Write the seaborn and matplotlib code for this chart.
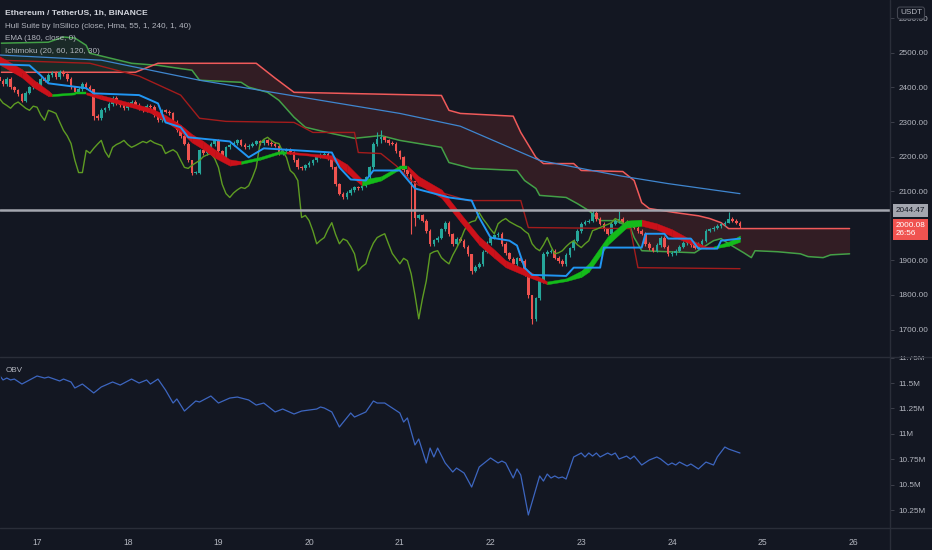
import numpy as np
import pandas as pd
import matplotlib
matplotlib.use("Agg")
import matplotlib.pyplot as plt
import seaborn as sns
from matplotlib.patches import Rectangle
from matplotlib.lines import Line2D

# hourly candles, hour 0 = day 17 00:00
hours = np.arange(-10, 187)
closes = [
    2420, 2410, 2425, 2400, 2392, 2380, 2362, 2385, 2400, 2412,
    2405, 2425, 2420, 2436, 2442, 2430, 2446, 2438, 2424, 2400,
    2388, 2396, 2410, 2402, 2395, 2318, 2312, 2335, 2340, 2352,
    2369, 2355, 2348, 2340, 2352, 2358, 2349, 2340, 2334, 2346,
    2343, 2320, 2305, 2334, 2330, 2325, 2300, 2276, 2260, 2238,
    2190, 2154, 2154, 2218, 2210, 2224, 2236, 2247, 2215, 2198,
    2227, 2235, 2240, 2247, 2235, 2227, 2232, 2238, 2244, 2240,
    2247, 2240, 2236, 2232, 2209, 2215, 2220, 2212, 2190, 2169,
    2166, 2175, 2182, 2189, 2200, 2205, 2209, 2195, 2169, 2120,
    2093, 2082, 2095, 2104, 2111, 2108, 2116, 2140, 2169, 2238,
    2250, 2256, 2247, 2240, 2238, 2215, 2198, 2160, 2150, 2131,
    2024, 2030, 2015, 1985, 1948, 1958, 1966, 1990, 2009, 1975,
    1948, 1962, 1957, 1940, 1919, 1870, 1882, 1890, 1925, 1950,
    1966, 1972, 1977, 1948, 1920, 1905, 1890, 1906, 1899, 1861,
    1800, 1731, 1790, 1841, 1919, 1925, 1928, 1908, 1898, 1890,
    1915, 1935, 1957, 1985, 2006, 2012, 2015, 2038, 2020, 2006,
    1990, 1977, 2006, 2015, 2021, 2012, 2006, 2000, 1995, 1985,
    1977, 1948, 1935, 1928, 1945, 1966, 1940, 1919, 1922, 1928,
    1940, 1950, 1957, 1945, 1937, 1948, 1957, 1986, 1990, 1995,
    2000, 2004, 2009, 2021, 2015, 2009, 2000.08,
]
first_open = 2430
# long wicks: hour -> (high, low)
wick_extremes = {
    15: (2395, 2305), 41: (2190, 2146), 90: (2270, 2232), 91: (2276, 2240),
    99: (2160, 1977), 100: (2131, 2000), 115: (1919, 1860), 130: (1862, 1790),
    131: (1800, 1716), 147: (2045, 2010), 154: (2044, 2008), 183: (2040, 2009),
}

ema_h = [-10, 17, 43, 70, 96, 112, 133, 154, 167, 186]
ema_p = [2494, 2479, 2421, 2372, 2325, 2288, 2189, 2145, 2122, 2093]

tenkan_h = [-10, -2, 1, 3, 13, 15, 27, 32, 34, 38, 40, 51, 56, 60, 78, 80, 83, 87, 89, 96,
            100, 109, 115, 117, 120, 125, 127, 129, 131, 140, 142, 149, 150, 160, 161, 166,
            167, 173, 175, 180, 181, 186]
tenkan_p = [2467, 2464, 2435, 2412, 2398, 2383, 2378, 2354, 2299, 2285, 2256, 2244, 2198, 2224,
            2212, 2169, 2134, 2131, 2160, 2160, 2108, 2082, 2073, 2024, 1966, 1957, 1943, 1879,
            1858, 1855, 1879, 1879, 1937, 1937, 1977, 1977, 1963, 1963, 1934, 1934, 1957, 1963]

kijun_h = [-10, 14, 27, 38, 43, 50, 68, 73, 84, 85, 91, 95, 99, 101, 107, 114, 128, 130, 157, 159, 186]
kijun_p = [2479, 2470, 2433, 2378, 2311, 2302, 2299, 2270, 2270, 2212, 2209, 2174, 2131, 2117,
           2096, 2073, 2073, 1995, 1992, 1879, 1876]

spana_h = [-10, 3, 7, 10, 13, 14, 25, 32, 41, 43, 54, 56, 61, 64, 68, 71, 78, 84, 91, 96,
           107, 109, 115, 127, 129, 132, 133, 140, 143, 146, 149, 153, 157, 158, 160, 174,
           179, 181, 183, 187, 189, 190, 196, 202, 204, 208, 210, 215]
spana_p = [2528, 2531, 2546, 2543, 2522, 2499, 2470, 2464, 2450, 2421, 2415, 2401, 2386, 2363,
           2314, 2285, 2267, 2253, 2261, 2247, 2227, 2183, 2166, 2160, 2131, 2108, 2088, 2082,
           2064, 2044, 2015, 2015, 1995, 1966, 1928, 1922, 1957, 1963, 1948, 1922, 1908, 1928,
           1925, 1919, 1911, 1908, 1916, 1919]

spanb_h = [-10, 26, 32, 58, 63, 68, 107, 109, 112, 126, 128, 132, 134, 142, 144, 155, 158,
           160, 162, 169, 175, 178, 181, 183, 215]
spanb_p = [2444, 2444, 2470, 2470, 2427, 2386, 2377, 2334, 2325, 2317, 2270, 2198, 2180, 2180,
           2160, 2157, 2131, 2067, 2050, 2038, 2029, 2021, 2009, 1992, 1992]

hull_h = [-10, -4, -1, 3, 4, 10, 13, 17, 25, 30, 34, 38, 41, 44, 47, 51, 54, 59, 64, 66,
          72, 78, 82, 86, 91, 96, 98, 101, 107, 112, 117, 121, 124, 130, 135, 140, 144, 146,
          151, 156, 160, 164, 168, 173, 177, 179, 183, 186]
hull_p = [2479, 2441, 2412, 2383, 2378, 2383, 2383, 2372, 2349, 2334, 2311, 2282, 2253, 2233,
          2209, 2183, 2183, 2195, 2212, 2212, 2206, 2198, 2166, 2125, 2137, 2169, 2169, 2131,
          2093, 2024, 1957, 1919, 1890, 1861, 1835, 1844, 1861, 1879, 1957, 2005, 2009, 1998,
          1980, 1954, 1937, 1937, 1948, 1963]
hull_spread = [12, 12, 11, 8, 3, 3, 3, 6, 6, 7, 9, 10, 12, 12, 12, 9, 4, 4, 4, 3,
               3, 6, 12, 9, 6, 5, 5, 12, 12, 12, 12, 12, 10, 9, 4, 4, 9, 12, 12, 10,
               9, 9, 10, 6, 3, 3, 6, 9]
hull_trend = list("rrrrggrrrrrrrrrrgggrrrrgggrrrrrrrrggggggrrrrrggg")

obv_h = [-10, -9, -8, -7, -6, -4, 0, 2, 3, 6, 7, 9, 10, 12, 15, 17, 20, 22, 25, 27, 29, 30,
         32, 34, 36, 37, 39, 42, 43, 46, 48, 51, 53, 56, 58, 60, 63, 65, 68, 70, 74, 75, 76,
         78, 80, 83, 84, 87, 89, 90, 92, 96, 97, 98, 100, 101, 103, 104, 105, 106, 108, 110,
         111, 113, 115, 117, 120, 122, 123, 124, 126, 127, 128, 130, 133, 134, 135, 136, 137,
         138, 139, 140, 142, 144, 145, 146, 147, 148, 149, 151, 152, 153, 154, 156, 157, 158,
         160, 162, 164, 165, 167, 168, 169, 170, 172, 173, 175, 177, 179, 180, 182, 183, 186]
obv_v = [11.579, 11.530, 11.549, 11.530, 11.539, 11.490, 11.569, 11.549, 11.559, 11.520,
         11.539, 11.510, 11.451, 11.490, 11.402, 11.461, 11.510, 11.480, 11.539, 11.500,
         11.530, 11.490, 11.539, 11.431, 11.303, 11.343, 11.224, 11.323, 11.313, 11.372,
         11.303, 11.352, 11.362, 11.333, 11.283, 11.303, 11.215, 11.244, 11.195, 11.224,
         11.244, 11.264, 11.254, 11.215, 11.067, 11.205, 11.165, 11.215, 11.323, 11.303,
         11.303, 11.205, 11.116, 11.156, 10.890, 10.949, 10.713, 10.860, 10.772, 10.860,
         10.713, 10.624, 10.663, 10.614, 10.476, 10.673, 10.762, 10.713, 10.732, 10.713,
         10.565, 10.654, 10.594, 10.201, 10.585, 10.535, 10.604, 10.565, 10.585, 10.565,
         10.575, 10.555, 10.772, 10.811, 10.772, 10.811, 10.781, 10.811, 10.772, 10.811,
         10.791, 10.811, 10.752, 10.781, 10.752, 10.781, 10.693, 10.742, 10.772, 10.752,
         10.693, 10.713, 10.693, 10.722, 10.683, 10.703, 10.654, 10.722, 10.693, 10.772,
         10.870, 10.850, 10.811]

day_labels = ["17", "18", "19", "20", "21", "22", "23", "24", "25", "26"]
# 2000.00 sits under the last-price tag, so it is not labelled
price_ticks = [1700, 1800, 1900, 2100, 2200, 2300, 2400, 2500, 2600]
obv_ticks = [10.25, 10.5, 10.75, 11.0, 11.25, 11.5, 11.75]
obv_tick_labels = ["10.25M", "10.5M", "10.75M", "11M", "11.25M", "11.5M", "11.75M"]
hline_price = 2044.47
last_price = 2000.08
countdown = "26:56"

BG = "#131722"
TXT = "#b2b5be"
SEP = "#2a2e39"
UP = "#26a69a"
DOWN = "#ef5350"
FS = 5.9

sns.set_theme(style="dark", rc={
    "figure.facecolor": BG, "axes.facecolor": BG, "axes.edgecolor": BG,
    "text.color": TXT, "xtick.color": TXT, "ytick.color": TXT,
})
plt.rcParams["font.family"] = ["Liberation Sans Narrow", "Liberation Sans", "DejaVu Sans"]

fig = plt.figure(figsize=(9.32, 5.5), dpi=100)
ax = fig.add_axes([0, 1 - 356 / 550, 890 / 932, 356 / 550])
ax2 = fig.add_axes([0, 22 / 550, 890 / 932, 171 / 550])

# candles
c = np.array(closes, dtype=float)
o = np.concatenate([[first_open], c[:-1]])
hi = np.maximum(o, c) + 5
lo = np.minimum(o, c) - 5
for hr, (h_, l_) in wick_extremes.items():
    i = hr - hours[0]
    hi[i], lo[i] = h_, l_
cols = np.where(c >= o, UP, DOWN)
ax.vlines(hours, lo, hi, colors=cols, lw=0.8, zorder=3)
ax.bar(hours, np.maximum(np.abs(c - o), 1.5), bottom=np.minimum(o, c), width=0.7,
       color=cols, linewidth=0, zorder=3)

# ichimoku cloud
grid = np.arange(-10, 216)
a = np.interp(grid, spana_h, spana_p)
b = np.interp(grid, spanb_h, spanb_p)
ax.fill_between(grid, a, b, where=a >= b, interpolate=True, color="#4caf50", alpha=0.13, lw=0, zorder=1)
ax.fill_between(grid, a, b, where=a < b, interpolate=True, color="#f44336", alpha=0.14, lw=0, zorder=1)
sns.lineplot(x=spana_h, y=spana_p, ax=ax, color="#43a047", lw=1.1, estimator=None, sort=False, zorder=2)
sns.lineplot(x=spanb_h, y=spanb_p, ax=ax, color="#f05a5a", lw=1.1, estimator=None, sort=False, zorder=2)
sns.lineplot(x=kijun_h, y=kijun_p, ax=ax, color="#a31c1c", lw=1.0, estimator=None, sort=False, zorder=4)
sns.lineplot(x=hours[30:] - 30, y=c[30:], ax=ax, color="#5e9c22", lw=1.0, estimator=None, sort=False, zorder=4)
sns.lineplot(x=ema_h, y=ema_p, ax=ax, color="#3f86cf", lw=0.9, estimator=None, sort=False, zorder=4)

# hull suite band
hull_colors = {"r": "#cc111a", "g": "#14bb1a"}
for i in range(len(hull_h) - 1):
    xs = [hull_h[i], hull_h[i + 1]]
    mid = np.array([hull_p[i], hull_p[i + 1]])
    w = np.array([hull_spread[i], hull_spread[i + 1]])
    ax.fill_between(xs, mid - w, mid + w, color=hull_colors[hull_trend[i]], lw=0.3,
                    edgecolor=hull_colors[hull_trend[i]], zorder=5)

sns.lineplot(x=tenkan_h, y=tenkan_p, ax=ax, color="#2196f3", lw=1.4, estimator=None, sort=False, zorder=6)
ax.axhline(hline_price, color="#a3a6af", lw=1.8, zorder=7)

ax.set_xlim(-9.8, 225.7)
ax.set_ylim(1623.5, 2653)
ax.yaxis.tick_right()
ax.set_yticks(price_ticks)
ax.set_yticklabels([f"{t:.2f}" for t in price_ticks])
ax.tick_params(axis="y", length=3, width=0.6, color="#434651", pad=3, labelsize=FS, labelcolor=TXT, right=True)
ax.set_xticks([])
ax.set_xlabel("")
ax.set_ylabel("")
ax.grid(False)

ax.annotate(f"{hline_price:.2f}", xy=(1.0, hline_price), xycoords=("axes fraction", "data"),
            xytext=(4, 0), textcoords="offset points", va="center", ha="left", fontsize=FS,
            color="#131722", zorder=20, annotation_clip=False,
            bbox=dict(boxstyle="square,pad=0.35", fc="#a3a6af", ec="none"))
ax.annotate(f"{last_price:.2f}\n{countdown}", xy=(1.0, last_price - 11), xycoords=("axes fraction", "data"),
            xytext=(4, 0), textcoords="offset points", va="center", ha="left", fontsize=FS,
            color="white", zorder=20, annotation_clip=False, linespacing=1.25,
            bbox=dict(boxstyle="square,pad=0.35", fc="#f05350", ec="none"))

# OBV panel
sns.lineplot(x=obv_h, y=obv_v, ax=ax2, color="#3d66c0", lw=0.9, estimator=None, sort=False)
ax2.set_xlim(-9.8, 225.7)
ax2.set_ylim(10.073, 11.756)
ax2.yaxis.tick_right()
ax2.set_yticks(obv_ticks)
ax2.set_yticklabels(obv_tick_labels)
ax2.tick_params(axis="y", length=3, width=0.6, color="#434651", pad=3, labelsize=FS, labelcolor=TXT, right=True)
ax2.set_xticks([24 * k for k in range(len(day_labels))])
ax2.set_xticklabels(day_labels)
ax2.tick_params(axis="x", length=0, pad=7, labelsize=FS + 0.3, labelcolor=TXT)
ax2.set_xlabel("")
ax2.set_ylabel("")
ax2.grid(False)
ax2.text(0.006, 0.92, "OBV", transform=ax2.transAxes, fontsize=FS, color=TXT, va="center")

# cover the clipped half of the top OBV label and draw pane separators
fig.add_artist(Rectangle((890.5 / 932, 1 - 356 / 550), 42 / 932, 10 / 550, transform=fig.transFigure,
                         fc=BG, ec="none", zorder=10))
fig.add_artist(Line2D([0, 1], [1 - 356.5 / 550] * 2, transform=fig.transFigure, color=SEP, lw=1, zorder=11))
fig.add_artist(Line2D([0, 1], [22 / 550] * 2, transform=fig.transFigure, color=SEP, lw=1, zorder=11))
fig.add_artist(Line2D([890 / 932] * 2, [0, 1], transform=fig.transFigure, color=SEP, lw=1, zorder=11))

fig.text(911 / 932, 1 - 13 / 550, "USDT", ha="center", va="center", fontsize=FS, color=TXT, zorder=12,
         bbox=dict(boxstyle="round,pad=0.3", fc=BG, ec="#434651", lw=0.8))

# legend lines
fig.text(5 / 932, 1 - 13 / 550, "Ethereum / TetherUS, 1h, BINANCE", fontsize=FS + 0.2, weight="bold",
         color="#d1d4dc", va="center", zorder=12)
legend_rows = ["Hull Suite by InSilico (close, Hma, 55, 1, 240, 1, 40)", "EMA (180, close, 0)",
               "Ichimoku (20, 60, 120, 30)"]
for k, row in enumerate(legend_rows):
    fig.text(5 / 932, 1 - (26 + 13 * k) / 550, row, fontsize=FS, color=TXT, va="center", zorder=12)

fig.savefig("out.png", dpi=100, facecolor=BG)
